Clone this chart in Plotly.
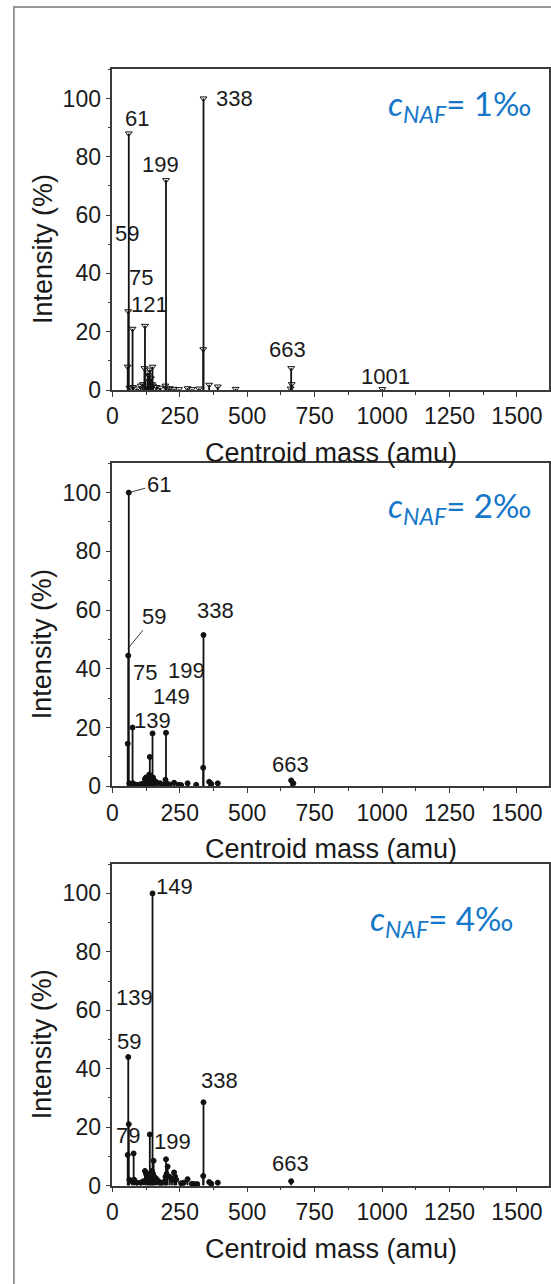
import plotly.graph_objects as go

# ---- spectra: centroid mass (amu) and relative intensity (%) ----
mass_1 = [57, 59, 61, 63, 75, 77, 91, 105, 113, 119, 121, 125, 131, 135, 137, 139,
          143, 147, 149, 151, 163, 177, 197, 199, 201, 213, 229, 247, 279, 295, 321,
          337, 338, 359, 391, 457, 661, 663, 665, 1001]
int_1 = [8, 27, 88, 0.8, 21, 1, 0.5, 1.5, 2, 7.5, 22, 1.5, 6, 5, 3, 7,
         4, 2, 8, 1.5, 1, 0.8, 1.5, 72, 0.5, 0.6, 0.4, 0.3, 0.6, 0.3, 0.5,
         14, 100, 1.8, 1.2, 0.4, 0.5, 7.5, 2, 0.3]

mass_2 = [57, 59, 61, 63, 75, 77, 91, 105, 115, 121, 125, 129, 131, 135, 137, 139,
          141, 143, 147, 149, 151, 155, 161, 165, 177, 185, 197, 199, 201, 213, 229,
          245, 255, 279, 311, 337, 338, 359, 367, 391, 663, 671]
int_2 = [14.5, 44.5, 100, 1, 20, 1, 0.5, 0.7, 1, 2.5, 3, 2.5, 3, 2, 4, 10,
         2.5, 3, 2, 18, 3, 2, 1.5, 1.2, 1, 0.5, 2.2, 18.2, 1, 0.6, 1.2,
         0.5, 0.4, 1, 0.5, 6.3, 51.5, 1.5, 0.8, 1, 2, 1]

mass_3 = [57, 59, 61, 63, 73, 79, 81, 91, 105, 115, 121, 125, 129, 131, 135, 137,
          139, 141, 143, 147, 149, 151, 153, 155, 161, 165, 171, 177, 185, 195, 197,
          199, 201, 205, 213, 221, 229, 233, 237, 255, 265, 279, 295, 305, 315, 337,
          338, 359, 367, 391, 663]
int_3 = [10.5, 44, 21, 2, 1.5, 11, 2, 1, 1, 1.5, 5, 4, 3, 3.5, 3, 4,
         17.5, 4, 3, 5, 100, 4, 8.5, 3, 2.5, 2, 1.5, 1, 1, 1.5, 3,
         9, 4, 6.5, 3, 2, 4.5, 3, 2, 0.8, 1, 2.2, 0.6, 0.5, 0.5, 3.3,
         28.5, 1.2, 0.6, 1, 1.5]

# labelled peaks (masses) per spectrum
peaks_1 = [61, 338, 199, 59, 75, 121, 663, 1001]
peaks_2 = [338, 75, 199, 149, 139, 663]
peaks_3 = [149, 139, 59, 338, 79, 199, 663]
# peaks labelled with a leader line (spectrum 2)
lead_peaks_2 = [61, 59]

concentrations = ["1‰", "2‰", "4‰"]

# ---- label placement (amu, %) ----
label_xy_1 = [(90, 93.2), (454, 100), (180, 77.4), (55, 53.7), (107, 38.7),
              (138, 29.4), (650, 14), (1012, 4.8)]
label_xy_2 = [(383, 60), (120, 38.8), (274, 39.4), (219, 30.4), (150, 22.5), (659, 7.5)]
label_xy_3 = [(230, 102.3), (84, 64.3), (61, 49.4), (396, 35.9), (58, 17.3),
              (223, 15), (660, 7.7)]
# leader lines: anchor (amu, %) and text offset (px)
lead_2 = [((61, 100), (30, -8)), ((59, 47), (26, -32))]

# ---- geometry ----
W, H = 551, 1284
x_dom = [107.5 / W, 549.3 / W]
panels_px = [(70, 394), (468, 794.3), (873, 1197.7)]
y_doms = [[1 - b / H, 1 - t / H] for t, b in panels_px]

FONT = "Liberation Sans, Arial, sans-serif"
AX_COL = "#3a3a3a"
TXT_COL = "#1a1a1a"
BLUE = "#1577c9"
TICK_SIZE = 23
LABEL_SIZE = 22
TITLE_SIZE = 27

fig = go.Figure()

spectra = [(mass_1, int_1, "triangle-down-open", 6),
           (mass_2, int_2, "circle", 5),
           (mass_3, int_3, "circle", 5)]

for i, (mx, iy, sym, msz) in enumerate(spectra):
    ax = "" if i == 0 else str(i + 1)
    sx, sy = [], []
    for m, v in zip(mx, iy):
        sx += [m, m, None]
        sy += [0, v, None]
    fig.add_trace(go.Scatter(x=sx, y=sy, mode="lines",
                             line=dict(color="#111111", width=1.8),
                             xaxis="x" + ax, yaxis="y" + ax,
                             hoverinfo="skip", showlegend=False))
    fig.add_trace(go.Scatter(x=mx, y=iy, mode="markers",
                             marker=dict(symbol=sym, size=msz, color="#111111",
                                         line=dict(color="#111111", width=1)),
                             xaxis="x" + ax, yaxis="y" + ax, cliponaxis=False,
                             showlegend=False))

    common_x = dict(range=[0, 1620], domain=x_dom, anchor="y" + ax,
                    tickvals=[0, 250, 500, 750, 1000, 1250, 1500],
                    ticks="outside", ticklen=5, tickwidth=1.3, tickcolor=AX_COL,
                    minor=dict(dtick=125, tick0=0, ticks="outside", ticklen=3,
                               tickcolor=AX_COL, tickwidth=1.2),
                    showline=True, linecolor=AX_COL, linewidth=1.5, mirror=True,
                    showgrid=False, zeroline=False,
                    tickfont=dict(family=FONT, size=TICK_SIZE, color=TXT_COL))
    common_y = dict(range=[0, 110], domain=y_doms[i], anchor="x" + ax,
                    tickvals=[0, 20, 40, 60, 80, 100],
                    ticks="outside", ticklen=5, tickwidth=1.3, tickcolor=AX_COL,
                    minor=dict(dtick=10, tick0=0, ticks="outside", ticklen=3,
                               tickcolor=AX_COL, tickwidth=1.2),
                    showline=True, linecolor=AX_COL, linewidth=1.5, mirror=True,
                    showgrid=False, zeroline=False,
                    tickfont=dict(family=FONT, size=TICK_SIZE, color=TXT_COL))
    fig.layout["xaxis" + ax] = common_x
    fig.layout["yaxis" + ax] = common_y

    # axis titles
    fig.add_annotation(text="Centroid mass (amu)", xref="x" + ax + " domain",
                       yref="y" + ax + " domain", x=0.5, y=0, yshift=-63,
                       showarrow=False, yanchor="middle",
                       font=dict(family=FONT, size=TITLE_SIZE, color=TXT_COL))
    fig.add_annotation(text="Intensity (%)", xref="x" + ax + " domain",
                       yref="y" + ax, x=0, y=48.5, xshift=-70, textangle=-90,
                       showarrow=False, xanchor="center", yanchor="middle",
                       font=dict(family=FONT, size=TITLE_SIZE, color=TXT_COL))

    # concentration tag
    tag_y = [106.7, 513, 930][i]
    tag_x = [458, 458, 440][i]
    fig.add_annotation(text="<i>c</i><sub><i>NAF</i></sub>= " + concentrations[i],
                       xref="paper", yref="paper", x=tag_x / W, y=1 - tag_y / H,
                       showarrow=False, xanchor="center", yanchor="middle",
                       font=dict(family="Lato, Open Sans, sans-serif", size=33,
                                 color=BLUE))

# peak labels
for ax, peaks, xy in [("", peaks_1, label_xy_1), ("2", peaks_2, label_xy_2),
                      ("3", peaks_3, label_xy_3)]:
    for p, (lx, ly) in zip(peaks, xy):
        fig.add_annotation(text=str(p), x=lx, y=ly, xref="x" + ax, yref="y" + ax,
                           showarrow=False, xanchor="center", yanchor="middle",
                           font=dict(family=FONT, size=LABEL_SIZE, color=TXT_COL))

for p, ((hx, hy), (ox, oy)) in zip(lead_peaks_2, lead_2):
    fig.add_annotation(text=str(p), x=hx, y=hy, xref="x2", yref="y2",
                       showarrow=True, arrowhead=0, arrowwidth=0.9,
                       arrowcolor="#222222", ax=ox, ay=oy, standoff=0,
                       font=dict(family=FONT, size=LABEL_SIZE, color=TXT_COL))

# outer frame
fig.add_shape(type="rect", xref="paper", yref="paper",
              x0=8 / W, x1=1.05, y0=-0.05, y1=1 - 7 / H,
              line=dict(color="#7a7a7a", width=1.5), fillcolor="rgba(0,0,0,0)")

fig.update_layout(width=W, height=H, margin=dict(l=0, r=0, t=0, b=0),
                  autosize=False, paper_bgcolor="white", plot_bgcolor="white",
                  showlegend=False)

fig.write_html("out.html")
